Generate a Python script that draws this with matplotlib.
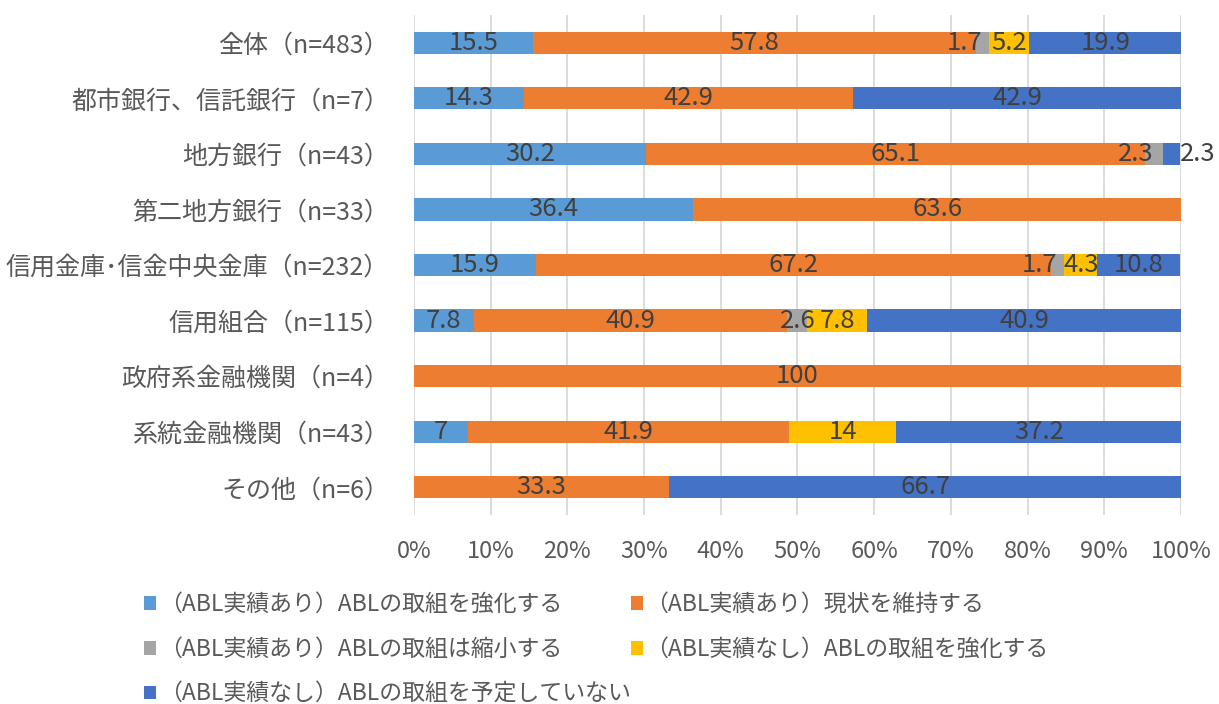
import numpy as np
import matplotlib
matplotlib.use('Agg')
from matplotlib import pyplot as plt
from matplotlib.patches import Patch

plt.rcParams['font.family'] = ['Noto Sans CJK JP', 'DejaVu Sans']

# 区分と回答割合（%）
categories = ['全体（n=483）', '都市銀行、信託銀行（n=7）', '地方銀行（n=43）',
              '第二地方銀行（n=33）', '信用金庫･信金中央金庫（n=232）', '信用組合（n=115）',
              '政府系金融機関（n=4）', '系統金融機関（n=43）', 'その他（n=6）']
series_names = ['（ABL実績あり）ABLの取組を強化する', '（ABL実績あり）現状を維持する',
                '（ABL実績あり）ABLの取組は縮小する', '（ABL実績なし）ABLの取組を強化する',
                '（ABL実績なし）ABLの取組を予定していない']
kyouka_ari = [15.5, 14.3, 30.2, 36.4, 15.9, 7.8, 0, 7, 0]
iji_ari = [57.8, 42.9, 65.1, 63.6, 67.2, 40.9, 100, 41.9, 33.3]
shukusho_ari = [1.7, 0, 2.3, 0, 1.7, 2.6, 0, 0, 0]
kyouka_nashi = [5.2, 0, 0, 0, 4.3, 7.8, 0, 14, 0]
yotei_nashi = [19.9, 42.9, 2.3, 0, 10.8, 40.9, 0, 37.2, 66.7]
colors = ['#5B9BD5', '#ED7D31', '#A5A5A5', '#FFC000', '#4472C4']

data = [kyouka_ari, iji_ari, shukusho_ari, kyouka_nashi, yotei_nashi]

fig = plt.figure(figsize=(12.19, 7.04), dpi=100)
ax = fig.add_axes([0.3396, 0.2685, 0.6292, 0.7102])

y = np.arange(len(categories))
left = np.zeros(len(categories))
for k, vals in enumerate(data):
    vals = np.array(vals, dtype=float)
    ax.barh(y, vals, left=left, height=0.4, color=colors[k], zorder=2)
    for i, v in enumerate(vals):
        if v == 0:
            continue
        txt = f'{v:g}'
        cx = left[i] + v / 2
        ha = 'center'
        if k == 2 and i != 5:
            # 細い区間はラベルを左側へずらす
            ha = 'right'
        if k == 4 and v < 3:
            cx = left[i] + v
            ha = 'left'
        ax.text(cx, i, txt, ha=ha, va='center', fontsize=18.5, color='#404040',
                zorder=3)
    left += vals

ax.set_xlim(0, 100)
ax.set_ylim(len(categories) - 0.5, -0.5)
ax.set_xticks(np.arange(0, 101, 10))
ax.set_xticklabels([f'{t}%' for t in range(0, 101, 10)])
ax.set_yticks(y)
ax.set_yticklabels(categories)
ax.tick_params(axis='x', length=0, labelsize=17, labelcolor='#595959', pad=18)
ax.tick_params(axis='y', length=0, labelsize=18, labelcolor='#595959', pad=18)
ax.grid(axis='x', color='#D9D9D9', linewidth=1.3, zorder=0)
for s in ax.spines.values():
    s.set_visible(False)

handles = [Patch(facecolor=c, label=n) for c, n in zip(colors, series_names)]
order = [0, 2, 4, 1, 3]
fig.legend([handles[i] for i in order], [series_names[i] for i in order],
           ncol=2, loc='upper left', bbox_to_anchor=(0.101, 0.187),
           frameon=False, fontsize=16.5, labelcolor='#595959',
           handlelength=0.55, handleheight=0.55, handletextpad=0.1,
           columnspacing=0.0, labelspacing=0.95)

fig.savefig('out.png', dpi=100)
